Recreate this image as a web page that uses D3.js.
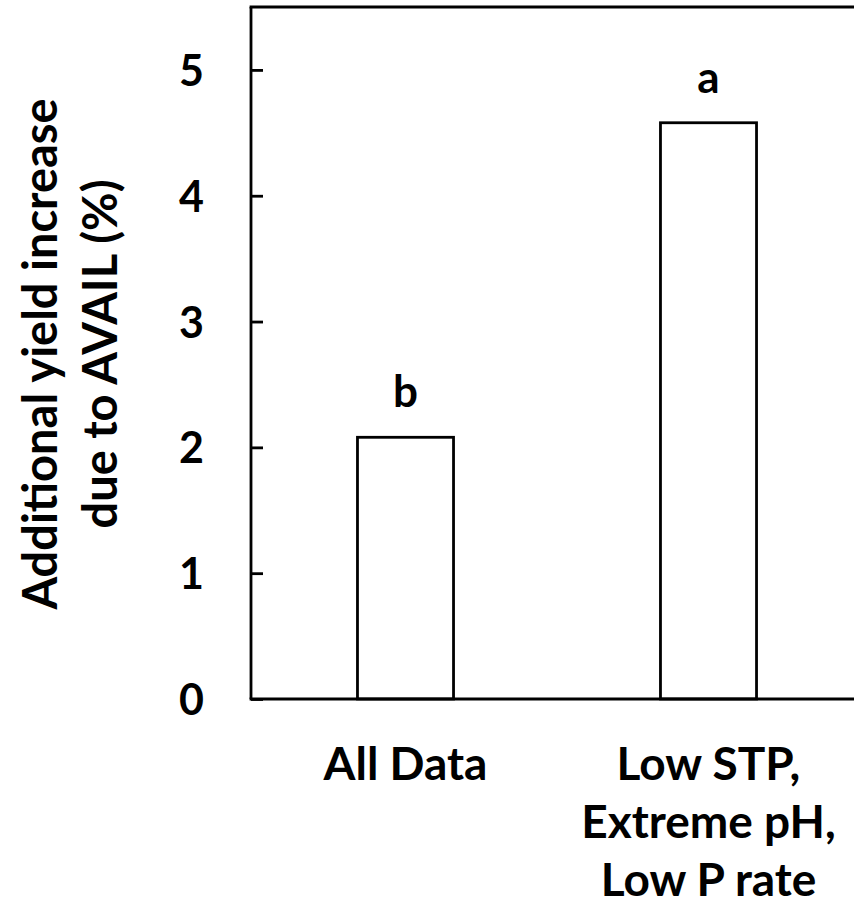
<!DOCTYPE html>
<html><head><meta charset="utf-8">
<script src="https://cdn.jsdelivr.net/npm/d3@7"></script>
<style>body{margin:0;background:#fff}svg{display:block}text{font-family:Lato,"Open Sans",sans-serif;font-weight:bold;fill:#000}</style>
</head><body>
<svg id="c" width="854" height="909"></svg>
<script>
const categories = [["All Data"], ["Low STP,", "Extreme pH,", "Low P rate"]];
const values = [2.08, 4.58];
const letters = ["b", "a"];
const yTicks = [0, 1, 2, 3, 4, 5];
const yTitle = ["Additional yield increase", "due to AVAIL (%)"];

const svg = d3.select("#c");
const mLeft = 251, mRight = 860, mTop = 7, mBottom = 699;
const x = d3.scaleBand().domain(d3.range(values.length)).range([mLeft + 3, mRight]).paddingInner(0.683).paddingOuter(0.3415);
const y = d3.scaleLinear().domain([0, 5.5]).range([mBottom, mTop]);

svg.selectAll("rect.bar").data(values).join("rect").attr("class","bar")
  .attr("x",(d,i)=>x(i)).attr("width",x.bandwidth())
  .attr("y",d=>y(d)).attr("height",d=>y(0)-y(d))
  .attr("fill","#fff").attr("stroke","#000").attr("stroke-width",2.8);

svg.selectAll("text.let").data(values).join("text").attr("class","let")
  .attr("x",(d,i)=>x(i)+x.bandwidth()/2).attr("y",d=>y(d)-30)
  .attr("text-anchor","middle").attr("font-size",44).text((d,i)=>letters[i]);

const ya = svg.append("g").attr("transform",`translate(${mLeft},0)`)
  .call(d3.axisLeft(y).tickValues(yTicks).tickSize(-12).tickPadding(47).tickFormat(d3.format("d")));
ya.select(".domain").remove();
ya.selectAll("line").attr("stroke","#000").attr("stroke-width",2.8);
ya.selectAll("text").attr("font-size",43).attr("font-family","Lato, sans-serif").attr("font-weight","bold").attr("dy","0.36em");

svg.append("line").attr("x1",mLeft).attr("x2",mLeft).attr("y1",mTop).attr("y2",mBottom).attr("stroke","#000").attr("stroke-width",2.8);
svg.append("line").attr("x1",mLeft-1.4).attr("x2",854).attr("y1",mBottom).attr("y2",mBottom).attr("stroke","#000").attr("stroke-width",2.8);
svg.append("line").attr("x1",mLeft-1.4).attr("x2",854).attr("y1",mTop).attr("y2",mTop).attr("stroke","#000").attr("stroke-width",2.8);

categories.forEach((lines,i)=>{
  const t = svg.append("text").attr("text-anchor","middle").attr("font-size",46)
    .attr("x",x(i)+x.bandwidth()/2).attr("y",780);
  lines.forEach((l,j)=>t.append("tspan").attr("x",x(i)+x.bandwidth()/2).attr("dy",j?58:0).text(l));
});

const yt = svg.append("text").attr("text-anchor","middle").attr("font-size",47)
  .attr("transform","translate(57,354) rotate(-90)");
yTitle.forEach((l,j)=>yt.append("tspan").attr("x",0).attr("dy",j?60:0).text(l));
</script>
</body></html>
